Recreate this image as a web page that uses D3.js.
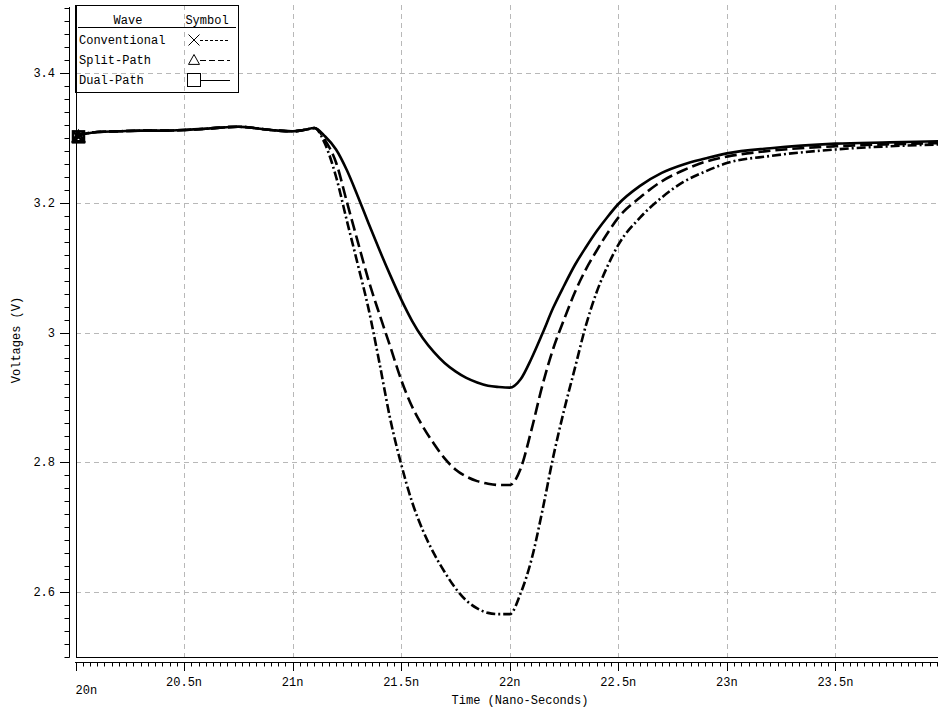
<!DOCTYPE html>
<html>
<head>
<meta charset="utf-8">
<script src="https://cdn.jsdelivr.net/npm/d3@7"></script>
<style>
  html, body { margin: 0; padding: 0; background: #fff; }
  svg { display: block; }
  text { font-family: "Liberation Mono", "DejaVu Sans Mono", monospace; fill: #000; }
</style>
</head>
<body>
<svg id="chart" width="938" height="709"></svg>
<script>
// ---- data ----
const time = [20.0, 20.1, 20.2, 20.3, 20.4, 20.5, 20.6, 20.75, 20.9, 21.0, 21.05, 21.1,
  21.15, 21.2, 21.25, 21.3, 21.35, 21.4, 21.45, 21.5, 21.55, 21.6, 21.65, 21.7, 21.75,
  21.8, 21.85, 21.9, 21.95, 22.0, 22.05, 22.1, 22.15, 22.2, 22.25, 22.3, 22.35, 22.4,
  22.45, 22.5, 22.6, 22.7, 22.8, 22.9, 23.0, 23.2, 23.5, 23.75, 24.0];

const flatStart = [3.303, 3.309, 3.310, 3.311, 3.311, 3.312, 3.314, 3.317, 3.312, 3.310, 3.312, 3.315];

const dualPath = flatStart.concat([
  3.302, 3.282, 3.250, 3.210, 3.168, 3.127, 3.088, 3.051, 3.018, 2.991, 2.970, 2.953, 2.940,
  2.930, 2.923, 2.918, 2.916, 2.915, 2.928, 2.960, 2.998, 3.038, 3.072, 3.104, 3.131, 3.156,
  3.178, 3.198, 3.226, 3.246, 3.259, 3.268, 3.276, 3.284, 3.291, 3.293, 3.295]);

const splitPath = flatStart.concat([
  3.296, 3.262, 3.201, 3.140, 3.080, 3.028, 2.978, 2.927, 2.886, 2.855, 2.829, 2.806, 2.789,
  2.778, 2.771, 2.767, 2.765, 2.765, 2.790, 2.850, 2.918, 2.975, 3.020, 3.062, 3.097, 3.126,
  3.153, 3.177, 3.208, 3.233, 3.250, 3.263, 3.271, 3.280, 3.287, 3.290, 3.292]);

const conventional = flatStart.concat([
  3.290, 3.240, 3.172, 3.105, 3.036, 2.953, 2.866, 2.797, 2.739, 2.695, 2.660, 2.631, 2.606,
  2.587, 2.575, 2.568, 2.566, 2.566, 2.598, 2.650, 2.725, 2.808, 2.880, 2.945, 3.010, 3.062,
  3.102, 3.135, 3.177, 3.208, 3.232, 3.248, 3.261, 3.272, 3.282, 3.287, 3.290]);

const seriesNames = ["Conventional", "Split-Path", "Dual-Path"];
const xTickValues = [20, 20.5, 21, 21.5, 22, 22.5, 23, 23.5];
const xTickLabels = ["20n", "20.5n", "21n", "21.5n", "22n", "22.5n", "23n", "23.5n"];
const yTickValues = [2.6, 2.8, 3.0, 3.2, 3.4];
const yTickLabels = ["2.6", "2.8", "3", "3.2", "3.4"];

// ---- chart ----
const svg = d3.select("#chart");
const x = d3.scaleLinear().domain([20, 24]).range([75.5, 944]);
const y = d3.scaleLinear().domain([2.5, 3.5]).range([657, 8]);

const plotLeft = 76, plotBottom = 657, plotTop = 5, plotRight = 938;
const FS = "12px";

// grid
const grid = svg.append("g").attr("stroke", "#b8b8b8").attr("stroke-width", 1)
  .attr("stroke-dasharray", "5,4");
grid.selectAll("line.h").data(yTickValues).join("line")
  .attr("x1", plotLeft).attr("x2", plotRight)
  .attr("y1", d => Math.round(y(d)) + 0.5).attr("y2", d => Math.round(y(d)) + 0.5);
grid.selectAll("line.v").data(xTickValues.slice(1)).join("line")
  .attr("y1", plotTop).attr("y2", plotBottom)
  .attr("x1", d => Math.round(x(d)) + 0.5).attr("x2", d => Math.round(x(d)) + 0.5);

// frame lines
svg.append("line").attr("x1", plotLeft + 0.5).attr("x2", plotLeft + 0.5)
  .attr("y1", plotTop).attr("y2", plotBottom + 0.5).attr("stroke", "#000");
svg.append("line").attr("x1", plotLeft).attr("x2", plotRight)
  .attr("y1", plotBottom + 0.5).attr("y2", plotBottom + 0.5).attr("stroke", "#000");

// y axis (ticks to the left)
const yMinor = d3.range(2.5, 3.5001, 0.02).map(v => +v.toFixed(2));
const yAx = svg.append("g").attr("stroke", "#000");
yAx.append("line").attr("x1", 69.5).attr("x2", 69.5).attr("y1", 7).attr("y2", plotBottom + 0.5);
yAx.selectAll("line.t").data(yMinor).join("line")
  .attr("x1", d => yTickValues.some(v => Math.abs(v - d) < 1e-6) ? 60 : 64.5).attr("x2", 69.5)
  .attr("y1", d => Math.round(y(d)) + 0.5).attr("y2", d => Math.round(y(d)) + 0.5);
svg.append("g").selectAll("text").data(yTickValues).join("text")
  .attr("x", 55).attr("y", d => y(d) + 4)
  .attr("text-anchor", "end").attr("font-size", FS)
  .text((d, i) => yTickLabels[i]);

// x axis (ticks downward)
const xMinor = d3.range(0, 121).map(i => 20 + i / 30).filter(v => v <= 24.0001);
const xAx = svg.append("g").attr("stroke", "#000");
xAx.append("line").attr("x1", 75).attr("x2", plotRight).attr("y1", 662.5).attr("y2", 662.5);
xAx.selectAll("line.t").data(xMinor).join("line")
  .attr("x1", d => Math.round(x(d)) + 0.5).attr("x2", d => Math.round(x(d)) + 0.5)
  .attr("y1", 662.5)
  .attr("y2", (d, i) => (i % 15 === 0) ? 671 : 666.5);
svg.append("g").selectAll("text").data(xTickValues).join("text")
  .attr("x", d => x(d))
  .attr("y", d => d === 20 ? 694 : 686)
  .attr("text-anchor", d => d === 20 ? "start" : "middle")
  .attr("font-size", FS)
  .text((d, i) => xTickLabels[i]);

// axis titles
svg.append("text").attr("x", 520).attr("y", 704).attr("text-anchor", "middle")
  .attr("font-size", FS).text("Time (Nano-Seconds)");
svg.append("text").attr("transform", "translate(20,340) rotate(-90)")
  .attr("text-anchor", "middle").attr("font-size", FS).text("Voltages (V)");

// curves
const styles = {
  "Conventional": "9,3,2,3",
  "Split-Path": "12,5",
  "Dual-Path": null
};
const seriesData = [conventional, splitPath, dualPath];
const line = d3.line().x((d, i) => x(time[i])).y(d => y(d)).curve(d3.curveMonotoneX);
svg.append("clipPath").attr("id", "clip").append("rect")
  .attr("x", plotLeft).attr("y", plotTop).attr("width", plotRight - plotLeft).attr("height", plotBottom - plotTop);
svg.append("g").attr("clip-path", "url(#clip)").selectAll("path").data(seriesData).join("path")
  .attr("d", d => line(d))
  .attr("fill", "none").attr("stroke", "#000").attr("stroke-width", 2.6)
  .attr("stroke-linejoin", "round")
  .attr("stroke-dasharray", (d, i) => styles[seriesNames[i]]);

// start markers
function drawMarker(g, name, cx, cy, s) {
  if (name === "Conventional") {
    g.append("path").attr("d", `M${cx - s},${cy - s}L${cx + s},${cy + s}M${cx - s},${cy + s}L${cx + s},${cy - s}`);
  } else if (name === "Split-Path") {
    g.append("path").attr("d", `M${cx},${cy - s}L${cx + s},${cy + s * 0.8}L${cx - s},${cy + s * 0.8}Z`);
  } else {
    g.append("rect").attr("x", cx - s).attr("y", cy - s).attr("width", 2 * s).attr("height", 2 * s);
  }
}
const mk = svg.append("g").attr("fill", "none").attr("stroke", "#000").attr("stroke-width", 2.5);
seriesNames.forEach((n, i) => drawMarker(mk, n, x(time[0]) + 3, y(seriesData[i][0]) + 1, 5.5));

// legend
const lg = svg.append("g");
lg.append("rect").attr("x", 75.5).attr("y", 5.5).attr("width", 163).attr("height", 87)
  .attr("fill", "none").attr("stroke", "#000");
lg.append("line").attr("x1", 78).attr("x2", 236).attr("y1", 27.5).attr("y2", 27.5).attr("stroke", "#000");
lg.append("text").attr("x", 128).attr("y", 24).attr("text-anchor", "middle").attr("font-size", FS).text("Wave");
lg.append("text").attr("x", 207).attr("y", 24).attr("text-anchor", "middle").attr("font-size", FS).text("Symbol");
const legDash = {"Conventional": "3,2", "Split-Path": "6,3", "Dual-Path": null};
seriesNames.forEach((n, i) => {
  const ry = 40 + i * 20;
  lg.append("text").attr("x", 79).attr("y", ry + 4).attr("font-size", FS).text(n);
  const g = lg.append("g").attr("fill", "none").attr("stroke", "#000").attr("stroke-width", 1);
  drawMarker(g, n, 194, ry, n === "Dual-Path" ? 6.5 : 5.5);
  g.append("line").attr("x1", n === "Dual-Path" ? 201 : 200).attr("x2", 230)
    .attr("y1", ry + 0.5).attr("y2", ry + 0.5)
    .attr("stroke-dasharray", legDash[n]);
});
</script>
</body>
</html>
